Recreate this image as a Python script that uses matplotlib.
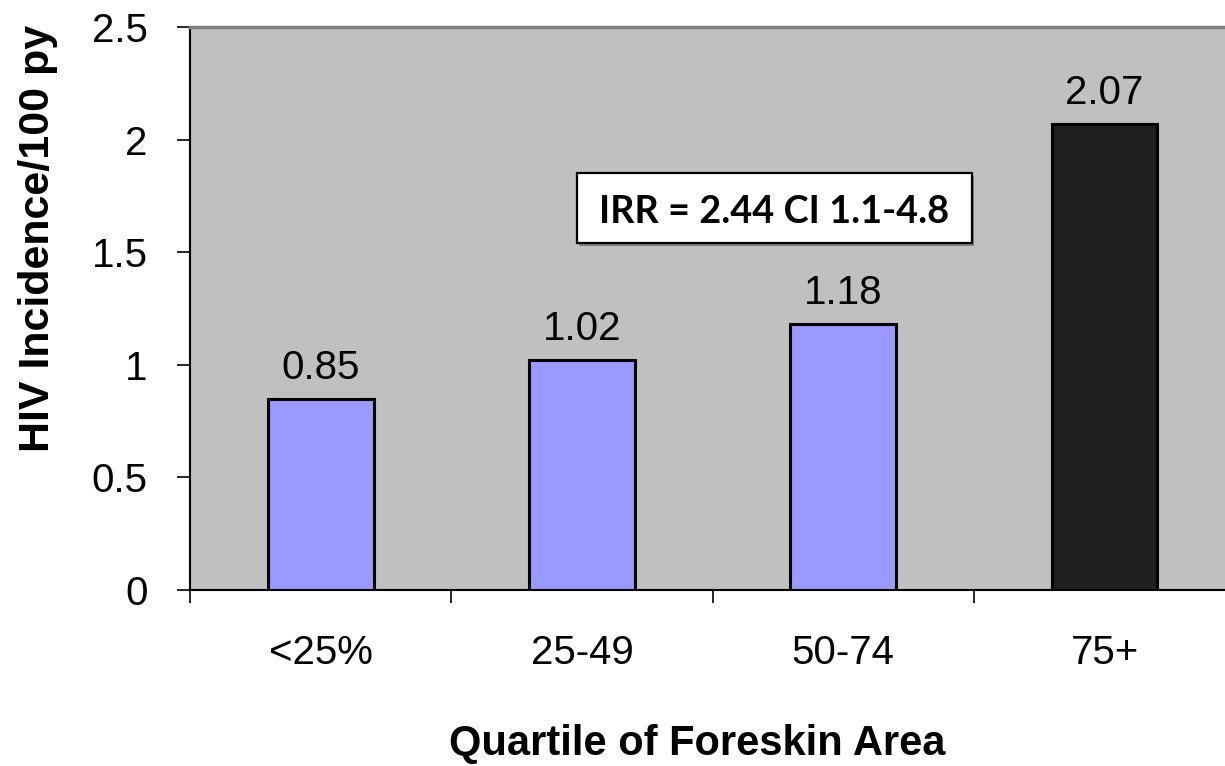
import matplotlib
matplotlib.use("Agg")
import matplotlib.pyplot as plt
from matplotlib.patches import Rectangle

categories = ["<25%", "25-49", "50-74", "75+"]
values = [0.85, 1.02, 1.18, 2.07]
bar_colors = ["#9999FF", "#9999FF", "#9999FF", "#202020"]
yticks = [0, 0.5, 1, 1.5, 2, 2.5]
ytick_labels = ["0", "0.5", "1", "1.5", "2", "2.5"]
annotation = "IRR = 2.44 CI 1.1-4.8"

plt.rcParams['font.family'] = ['Liberation Sans', 'DejaVu Sans']

W, H = 1225, 766
fig = plt.figure(figsize=(W / 100, H / 100), dpi=100)
cat_w = 261.3
ax = fig.add_axes([190 / W, (H - 590) / H, 4 * cat_w / W, 563 / H])
ax.set_facecolor("#C0C0C0")

x = list(range(len(categories)))
ax.bar(x, values, width=0.405, color=bar_colors, edgecolor="black", linewidth=2.2, zorder=3)

for xi, v in zip(x, values):
    ax.annotate(f"{v:.2f}", (xi, v), xytext=(0, 14.3), textcoords="offset points",
                ha="center", va="baseline", fontsize=29)

ax.set_xlim(-0.5, len(categories) - 0.5)
ax.set_ylim(0, 2.5)
ax.set_yticks(yticks)
ax.set_yticklabels(ytick_labels, fontsize=29)
ax.tick_params(axis="y", length=9.5, width=1.2, pad=21, direction="out")

ax.set_xticks(x)
ax.set_xticklabels(categories, fontsize=29)
ax.tick_params(axis="x", which="major", length=0, pad=32)
ax.set_xticks([i - 0.5 for i in range(len(categories) + 1)], minor=True)
ax.tick_params(axis="x", which="minor", length=9.5, width=1.2, direction="out")

for s in ["left", "bottom"]:
    ax.spines[s].set_color("black")
    ax.spines[s].set_linewidth(1.5)
ax.spines["top"].set_color("#808080")
ax.spines["top"].set_linewidth(2.5)
ax.spines["right"].set_color("#808080")
ax.spines["right"].set_linewidth(2.5)

# annotation box
bx0, bx1, by0, by1 = 0.981, 2.493, 1.541, 1.852
ax.add_patch(Rectangle((bx0 + 0.008, by0 - 0.012), bx1 - bx0, by1 - by0, facecolor="#808080",
                       edgecolor="none", zorder=4))
ax.add_patch(Rectangle((bx0, by0), bx1 - bx0, by1 - by0, facecolor="white",
                       edgecolor="black", linewidth=1.6, zorder=4.5))
ax.text((bx0 + bx1) / 2 - 0.001, 1.630, annotation, fontsize=27.3, fontweight="bold",
        family=["Lato", "DejaVu Sans"], ha="center", va="baseline", zorder=5)

fig.text(38 / W, 1 - 238 / H, "HIV Incidence/100 py", rotation=90, fontsize=31,
         fontweight="bold", ha="center", va="center")
fig.text(697 / W, 1 - 755 / H, "Quartile of Foreskin Area", fontsize=30,
         fontweight="bold", ha="center", va="baseline")

fig.savefig("out.png", dpi=100)
